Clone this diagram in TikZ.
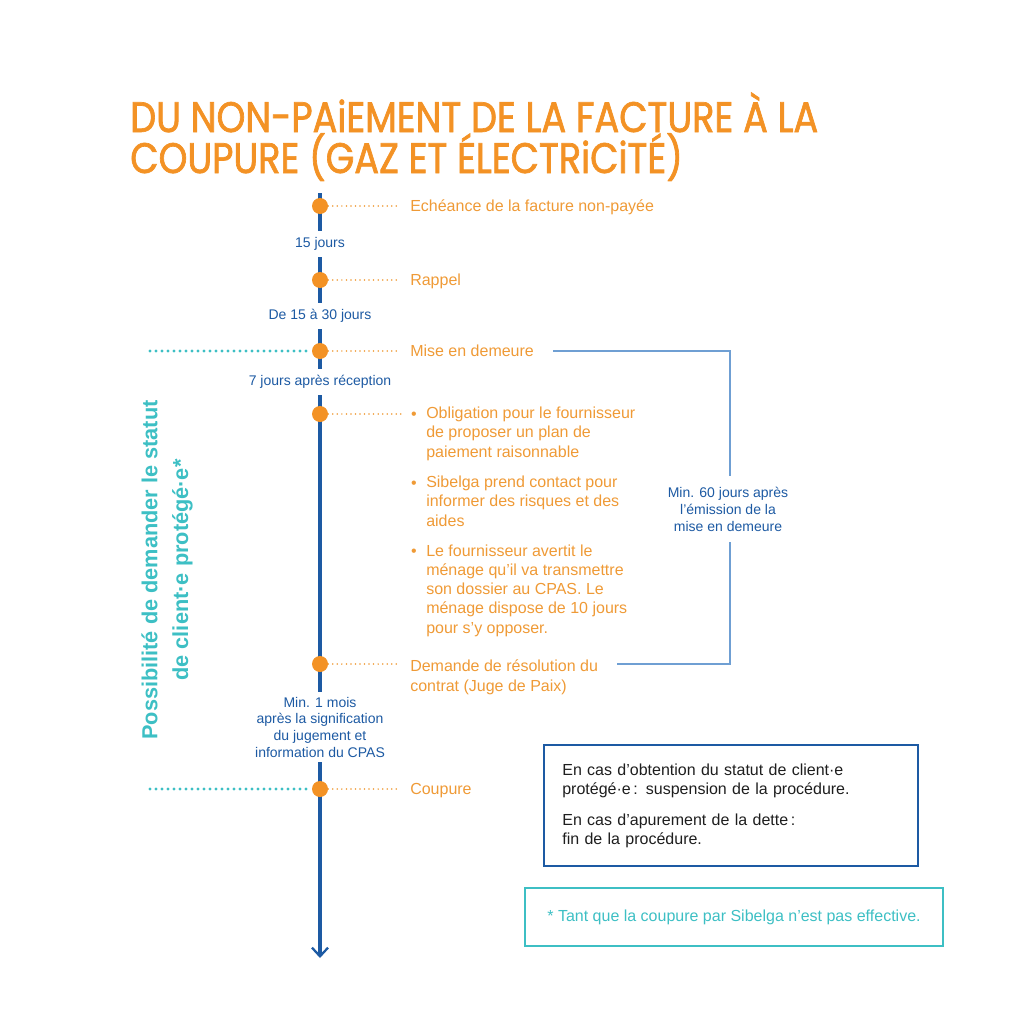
\documentclass[tikz,border=0pt]{standalone}
\usepackage{fontspec}
\setmainfont{Liberation Sans}
\newfontfamily\titlefont[FakeStretch=0.86,FakeBold=1.6]{Poppins}
\usetikzlibrary{arrows.meta}
\definecolor{orangeT}{HTML}{F39225}
\definecolor{orangeL}{HTML}{EF9A36}
\definecolor{bleuF}{HTML}{1D5AA3}
\definecolor{bleuC}{HTML}{6F9FD3}
\definecolor{turq}{HTML}{3DBFC4}
\definecolor{noirT}{HTML}{1E1E1E}
\begin{document}
\begin{tikzpicture}[x=0.75pt,y=-0.75pt,>={Straight Barb[length=6.5pt,width=12pt,line width=1.7pt]},
  every node/.style={inner sep=0pt},
  evt/.style={circle,fill=orangeT,minimum size=12pt},
  lab/.style={anchor=base west,text=orangeL,font=\fontsize{12}{14.4}\selectfont,align=left},
  puce/.style={anchor=base,text=orangeL,font=\fontsize{12}{14.4}\selectfont},
  duree/.style={fill=white,text=bleuF,font=\fontsize{10.5}{12.5}\selectfont,align=center,inner ysep=5pt,inner xsep=2pt},
  pointille/.style={orangeL,line width=1.3pt,line cap=round,dash pattern=on 0pt off 3.4pt,shorten >=7pt},
  pointturq/.style={turq,line width=2.3pt,line cap=round,dash pattern=on 0pt off 4.5pt}]
\useasboundingbox (0,0) rectangle (1024,1024);

\node[anchor=base west,align=left,text=orangeT,font=\titlefont\fontsize{32}{30.75}\selectfont] (titre) at (130,173)
  {DU NON-PAiEMENT DE LA FACTURE À LA\\COUPURE (GAZ ET ÉLECTRiCiTÉ)};

\coordinate (haut) at (320,193);
\coordinate (bas) at (320,958);
\draw[bleuF,line width=2.3pt,->] (haut) -- (bas);

\node[duree] (j1) at (320,244) {15 jours};
\node[duree] (j2) at (320,316) {De 15 à 30 jours};
\node[duree] (j3) at (320,382) {7 jours après réception};
\node[duree,inner ysep=4pt] (j4) at (320,727) {Min. 1 mois\\après la signification\\du jugement et\\information du CPAS};

\node[evt] (e1) at (320,206) {};
\node[evt] (e2) at (320,280) {};
\node[evt] (e3) at (320,351) {};
\node[evt] (e4) at (320,414) {};
\node[evt] (e5) at (320,664) {};
\node[evt] (e6) at (320,789) {};

\node[lab] (t1) at (410,211) {Echéance de la facture non-payée};
\node[lab] (t2) at (410,285) {Rappel};
\node[lab] (t3) at (410,356) {Mise en demeure};
\node[lab] (t4a) at (426,457) {Obligation pour le fournisseur\\de proposer un plan de\\paiement raisonnable};
\node[lab] (t4b) at (426,526) {Sibelga prend contact pour\\informer des risques et des\\aides};
\node[lab] (t4c) at (426,633) {Le fournisseur avertit le\\ménage qu'il va transmettre\\son dossier au CPAS. Le\\ménage dispose de 10 jours\\pour s'y opposer.};
\node[lab] (t5) at (410,691) {Demande de résolution du\\contrat (Juge de Paix)};
\node[lab] (t6) at (410,794) {Coupure};
\node[puce] (p1) at (414,419) {•};
\node[puce] (p2) at (414,488) {•};
\node[puce] (p3) at (414,556) {•};

\draw[pointille] (e1) -- (e1 -| t1.west);
\draw[pointille] (e2) -- (e2 -| t2.west);
\draw[pointille] (e3) -- (e3 -| t3.west);
\draw[pointille] (e4) -- (e4 -| p1.west);
\draw[pointille] (e5) -- (e5 -| t5.west);
\draw[pointille] (e6) -- (e6 -| t6.west);

\coordinate (g3) at (150,351);
\coordinate (g6) at (150,789);
\draw[pointturq] (g3) -- (e3.west);
\draw[pointturq] (g6) -- (e6.west);
\node[rotate=90,align=center,text=turq,font=\bfseries\fontsize{16.3}{23}\selectfont] (statut) at (167,570)
  {Possibilité de demander le statut\\de client·e protégé·e*};

\coordinate (c1) at (553,351);
\coordinate (c2) at (617,664);
\draw[bleuC,line width=1.5pt] (c1) -- (730,351) |- (c2);
\node[fill=white,align=center,text=bleuF,font=\fontsize{10.5}{12.75}\selectfont,inner ysep=8pt,inner xsep=2pt] (delai) at (728,509)
  {Min. 60 jours après\\l'émission de la\\mise en demeure};

\node[draw=bleuF,line width=1.7pt,minimum width=280.5pt,minimum height=90.75pt,text width=253pt,align=left,
  text=noirT,font=\fontsize{12}{14.25}\selectfont] (issue) at (731,805.5)
  {En cas d'obtention du statut de client·e\\protégé·e\,: suspension de la procédure.\\[9pt]En cas d'apurement de la dette\,:\\fin de la procédure.};
\node[draw=turq,line width=1.5pt,minimum width=313.5pt,minimum height=43.5pt,text=turq,font=\fontsize{12}{14.25}\selectfont] (note) at (734,917)
  {* Tant que la coupure par Sibelga n'est pas effective.};
\end{tikzpicture}
\end{document}
